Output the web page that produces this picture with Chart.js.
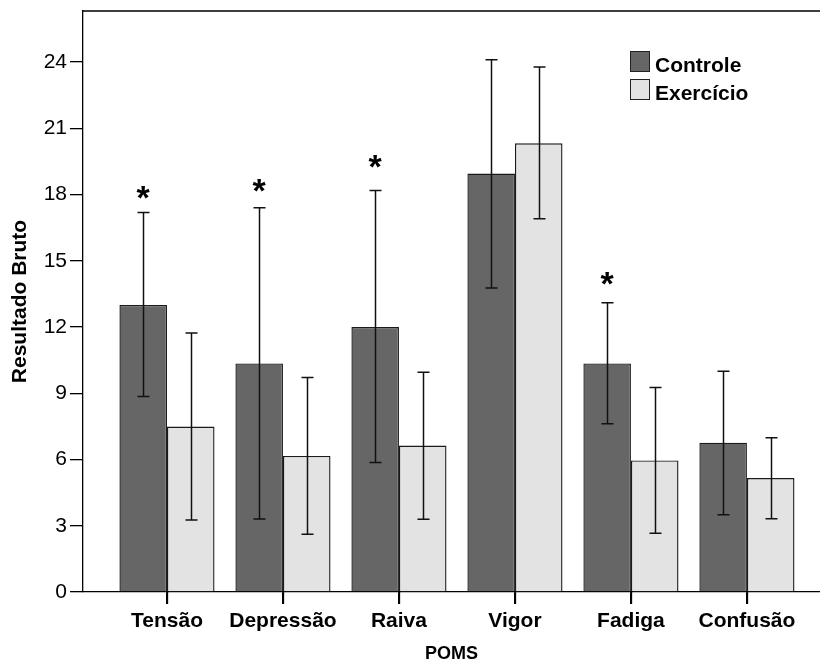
<!DOCTYPE html>
<html><head><meta charset="utf-8">
<script src="https://cdn.jsdelivr.net/npm/chart.js@4"></script>
<style>html,body{margin:0;padding:0;background:#fff}#wrap{width:820px;height:663px}</style>
</head><body><div id="wrap"><canvas id="c" width="820" height="663"></canvas></div>
<script>
const categories = ['Tensão', 'Depressão', 'Raiva', 'Vigor', 'Fadiga', 'Confusão'];
const seriesNames = ['Controle', 'Exercício'];
const controleMean = [13.0, 10.35, 12.0, 18.95, 10.35, 6.76];
const controleLow = [8.85, 3.31, 5.86, 13.77, 7.62, 3.5];
const controleHigh = [17.18, 17.4, 18.18, 24.1, 13.1, 10.0];
const exercicioMean = [7.49, 6.16, 6.63, 20.32, 5.96, 5.16];
const exercicioLow = [3.26, 2.61, 3.29, 16.9, 2.66, 3.32];
const exercicioHigh = [11.73, 9.71, 9.95, 23.77, 9.26, 6.99];
const asteriskAt = [18.07, 18.43, 19.49, null, 14.21, null];
const yTickValues = [0, 3, 6, 9, 12, 15, 18, 21, 24];

const FONT = "'Liberation Sans', Arial, sans-serif";
const colors = ['#666666', '#e3e3e3'];

const overlay = {
  id: 'overlay',
  afterDraw(chart) {
    const ctx = chart.ctx, ys = chart.scales.y, xs = chart.scales.x, area = chart.chartArea;
    ctx.save();
    ctx.strokeStyle = '#000';
    ctx.lineWidth = 1.3;
    ctx.beginPath();
    ctx.moveTo(area.left, area.top);
    ctx.lineTo(area.right, area.top);
    // category tick marks below the axis
    xs.ticks.forEach(t => {
      const px = Math.round(xs.getPixelForValue(t.value)) + 0.5;
      ctx.moveTo(px, area.bottom);
      ctx.lineTo(px, area.bottom + 12);
    });
    ctx.stroke();

    const lows = [controleLow, exercicioLow], highs = [controleHigh, exercicioHigh];
    ctx.strokeStyle = '#111';
    ctx.lineWidth = 1.5;
    chart.data.datasets.forEach((ds, di) => {
      chart.getDatasetMeta(di).data.forEach((bar, i) => {
        const x = Math.round(bar.x) + 0.5;
        const yl = ys.getPixelForValue(lows[di][i]);
        const yh = ys.getPixelForValue(highs[di][i]);
        ctx.beginPath();
        ctx.moveTo(x, yl); ctx.lineTo(x, yh);
        ctx.moveTo(x - 6, yl); ctx.lineTo(x + 6, yl);
        ctx.moveTo(x - 6, yh); ctx.lineTo(x + 6, yh);
        ctx.stroke();
      });
    });

    ctx.fillStyle = '#000';
    ctx.font = 'bold 34px ' + FONT;
    ctx.textAlign = 'center';
    ctx.textBaseline = 'alphabetic';
    const m = ctx.measureText('*');
    const meta0 = chart.getDatasetMeta(0);
    asteriskAt.forEach((v, i) => {
      if (v === null) return;
      const cy = ys.getPixelForValue(v);
      const base = cy + (m.actualBoundingBoxAscent - m.actualBoundingBoxDescent) / 2;
      ctx.fillText('*', meta0.data[i].x, base);
    });

    // legend
    ctx.textAlign = 'left';
    ctx.font = 'bold 21px ' + FONT;
    const boxes = [51, 79];
    chart.data.datasets.forEach((ds, di) => {
      ctx.fillStyle = ds.backgroundColor;
      ctx.fillRect(630, boxes[di], 19, 20);
      ctx.strokeStyle = '#222';
      ctx.lineWidth = 1;
      ctx.strokeRect(630.5, boxes[di] + 0.5, 19, 20);
      ctx.fillStyle = '#000';
      ctx.fillText(ds.label, 655, boxes[di] + 20.5);
    });
    ctx.restore();
  }
};

new Chart(document.getElementById('c'), {
  type: 'bar',
  data: {
    datasets: [
      { label: seriesNames[0], data: controleMean.map((v, i) => ({ x: i, y: v })),
        backgroundColor: colors[0], borderColor: '#1a1a1a', borderWidth: 1.4 },
      { label: seriesNames[1], data: exercicioMean.map((v, i) => ({ x: i, y: v })),
        backgroundColor: colors[1], borderColor: '#1a1a1a', borderWidth: 1.4 }
    ]
  },
  options: {
    responsive: false,
    animation: false,
    devicePixelRatio: 1,
    categoryPercentage: 0.82,
    barPercentage: 1.0,
    layout: { padding: { top: 11, right: 0, left: 0, bottom: 0 } },
    plugins: { legend: { display: false }, tooltip: { enabled: false } },
    scales: {
      x: {
        type: 'linear',
        offset: false,
        min: -0.724,
        max: 5.63,
        afterBuildTicks: (s) => { s.ticks = categories.map((c, i) => ({ value: i })); },
        afterFit: (s) => { s.height = 71; s.paddingLeft = 0; s.paddingRight = 0; },
        grid: { display: true, offset: false, drawOnChartArea: false, drawTicks: true, tickLength: 12, color: '#000', lineWidth: 1.3 },
        border: { display: true, color: '#000', width: 1.3 },
        ticks: {
          autoSkip: false, maxRotation: 0, padding: 5, color: '#000',
          font: { family: FONT, size: 21, weight: 'bold' },
          callback: (v) => categories[v]
        },
        title: { display: true, text: 'POMS', color: '#000', padding: { top: 0, bottom: -2 },
          font: { family: FONT, size: 18, weight: 'bold' } }
      },
      y: {
        min: 0,
        max: 26.31,
        afterBuildTicks: (s) => { s.ticks = yTickValues.map(v => ({ value: v })); },
        afterFit: (s) => { s.width = 83; s.paddingTop = 0; s.paddingBottom = 0; },
        grid: { display: true, drawOnChartArea: false, drawTicks: true, tickLength: 13, color: '#000', lineWidth: 1.3 },
        border: { display: true, color: '#000', width: 1.3 },
        ticks: { padding: 3, color: '#000', font: { family: FONT, size: 21 } },
        title: { display: true, text: 'Resultado Bruto', color: '#000', padding: { top: 8, bottom: 0 },
          font: { family: FONT, size: 21, weight: 'bold' } }
      }
    }
  },
  plugins: [overlay]
});
</script>
</body></html>
